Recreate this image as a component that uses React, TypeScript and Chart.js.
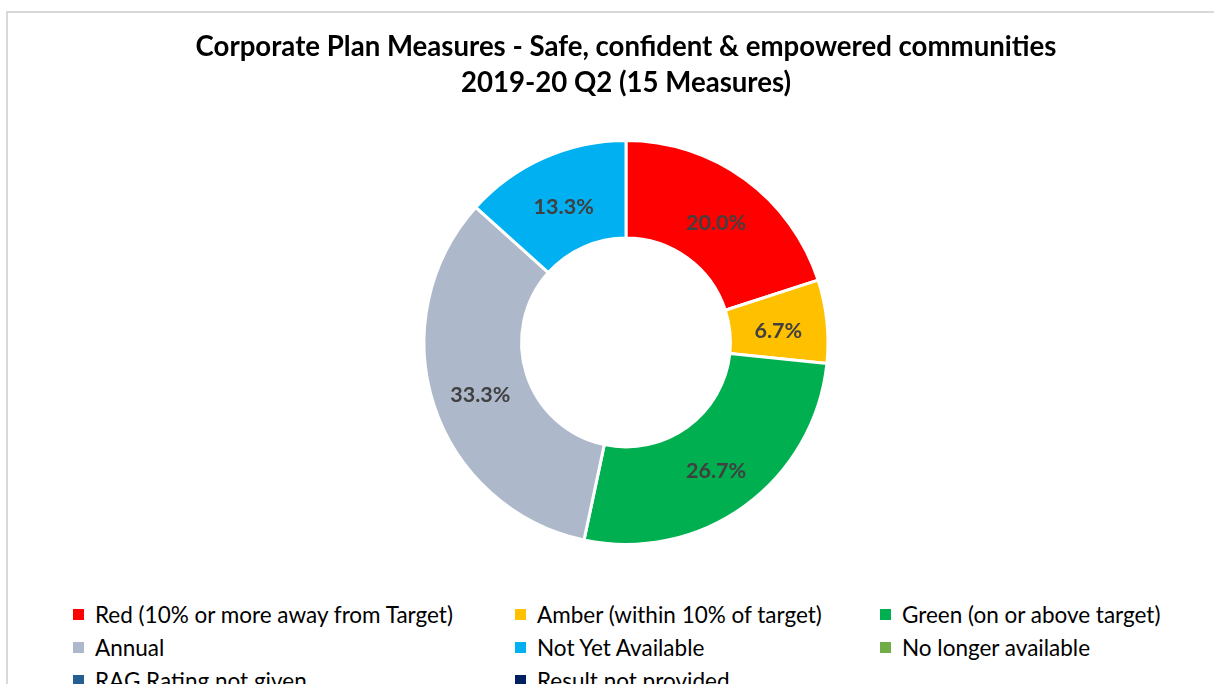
import React, { useEffect, useRef } from "react";
import { Chart, registerables } from "chart.js";

Chart.register(...registerables);

const titleLines = [
  "Corporate Plan Measures - Safe, confident & empowered communities",
  "2019-20 Q2 (15 Measures)",
];
const categories = [
  "Red (10% or more away from Target)",
  "Amber (within 10% of target)",
  "Green (on or above target)",
  "Annual",
  "Not Yet Available",
  "No longer available",
  "RAG Rating not given",
  "Result not provided",
];
const measureCounts = [3, 1, 4, 5, 2, 0, 0, 0];
const sliceColors = [
  "#FF0000",
  "#FFC000",
  "#00B050",
  "#ADB9CA",
  "#00B0F0",
  "#70AD47",
  "#255E91",
  "#002060",
];

const FONT = "Lato, 'Noto Sans', sans-serif";

const sliceLabelPlugin = {
  id: "sliceLabels",
  afterDatasetsDraw(chart: any) {
    const ctx = chart.ctx;
    const meta = chart.getDatasetMeta(0);
    const data = chart.data.datasets[0].data as number[];
    const total = data.reduce((a: number, b: number) => a + b, 0);
    ctx.save();
    ctx.font = `bold 21.5px ${FONT}`;
    ctx.fillStyle = "#404040";
    ctx.textAlign = "center";
    ctx.textBaseline = "middle";
    meta.data.forEach((arc: any, i: number) => {
      if (!data[i]) return;
      const p = arc.tooltipPosition(false);
      ctx.fillText(((data[i] / total) * 100).toFixed(1) + "%", p.x, p.y + 5);
    });
    ctx.restore();
  },
};

export default function App() {
  const canvasRef = useRef<HTMLCanvasElement>(null);

  useEffect(() => {
    if (!canvasRef.current) return;
    const chart = new Chart(canvasRef.current, {
      type: "doughnut",
      data: {
        labels: categories,
        datasets: [
          {
            data: measureCounts,
            backgroundColor: sliceColors,
            borderColor: "#FFFFFF",
            borderWidth: 3,
          },
        ],
      },
      options: {
        animation: false,
        responsive: false,
        maintainAspectRatio: false,
        cutout: "51.7%",
        layout: { padding: { left: 38, right: 0, top: 0, bottom: 44 } },
        plugins: {
          legend: { display: false },
          tooltip: { enabled: false },
          title: {
            display: true,
            text: titleLines,
            color: "#000000",
            font: { family: FONT, size: 27.6, weight: "bold", lineHeight: 36 / 27.6 },
            padding: { top: 29, bottom: 38 },
          },
        },
      },
      plugins: [sliceLabelPlugin],
    });
    return () => chart.destroy();
  }, []);

  const colX = [73, 515, 880];
  const rowY = [614, 647, 680];

  return (
    <div
      style={{
        position: "fixed",
        left: 0,
        top: 0,
        width: 1214,
        height: 684,
        overflow: "hidden",
        background: "#FFFFFF",
      }}
    >
      <div
        style={{
          position: "absolute",
          left: 6,
          top: 11,
          width: 1400,
          height: 900,
          border: "2px solid #D9D9D9",
          boxSizing: "border-box",
        }}
      />
      <canvas
        ref={canvasRef}
        width={1214}
        height={590}
        style={{ position: "absolute", left: 0, top: 0, width: 1214, height: 590 }}
      />
      {categories.map((label, i) => (
        <div
          key={label}
          style={{
            position: "absolute",
            left: colX[i % 3],
            top: rowY[Math.floor(i / 3)] - 14,
            height: 28,
            display: "flex",
            alignItems: "center",
            whiteSpace: "nowrap",
            fontFamily: FONT,
            fontSize: 22.5,
            color: "#000000",
          }}
        >
          <span
            style={{
              display: "inline-block",
              width: 11,
              height: 11,
              background: sliceColors[i],
              marginRight: 11,
            }}
          />
          <span>{label}</span>
        </div>
      ))}
    </div>
  );
}
